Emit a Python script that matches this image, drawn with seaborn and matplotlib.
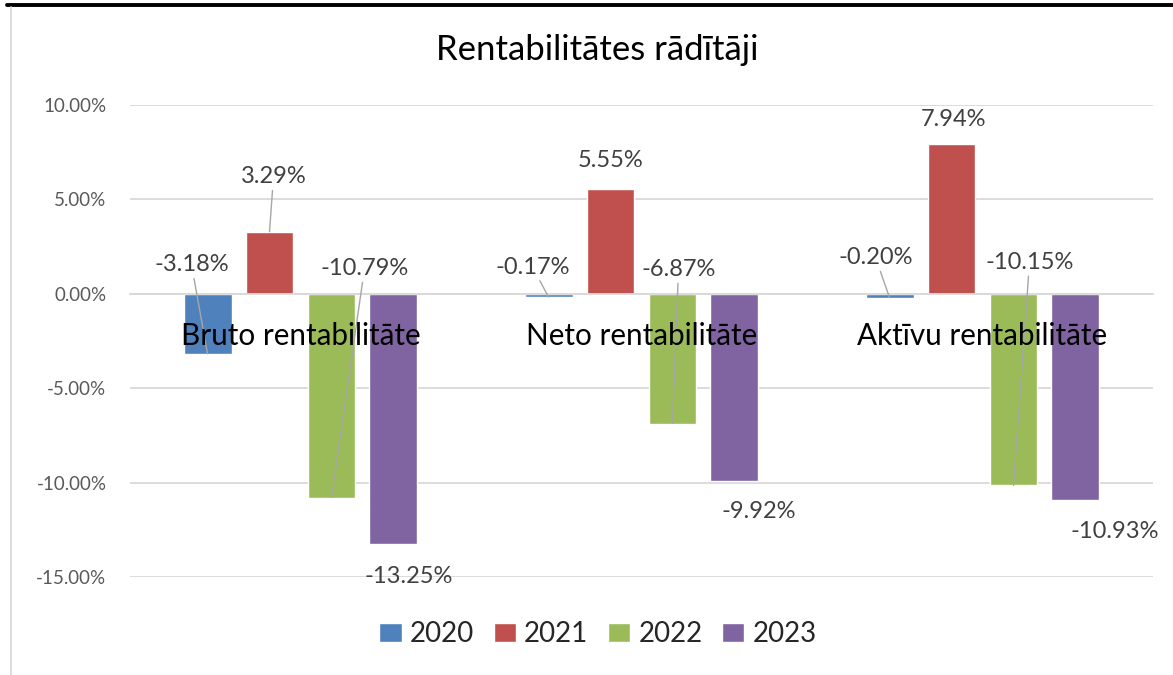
import seaborn as sns
import matplotlib.pyplot as plt
import pandas as pd
from matplotlib.lines import Line2D

categories = ["Bruto rentabilitāte", "Neto rentabilitāte", "Aktīvu rentabilitāte"]
years = ["2020", "2021", "2022", "2023"]
vals_2020 = [-3.18, -0.17, -0.20]
vals_2021 = [3.29, 5.55, 7.94]
vals_2022 = [-10.79, -6.87, -10.15]
vals_2023 = [-13.25, -9.92, -10.93]
colors = ["#4F81BD", "#C0504D", "#9BBB59", "#8064A2"]

# label offsets from the bar end, in pixels; True = draw a leader line
label_pos = {
    "2020": [(-16, 89, True), (-16, 30, True), (-14, 40, True)],
    "2021": [(4, 55, True), (0, 29, False), (2, 24, False)],
    "2022": [(33, 229, True), (6, 154, True), (16, 223, True)],
    "2023": [(15, -33, False), (24, -30, False), (39, -31, False)],
}

series = [vals_2020, vals_2021, vals_2022, vals_2023]
rows = []
for yr, vals in zip(years, series):
    for cat, v in zip(categories, vals):
        rows.append({"category": cat, "year": yr, "value": v})
df = pd.DataFrame(rows)

sns.set_theme(style="white")
plt.rcParams["font.family"] = ["Lato", "DejaVu Sans"]

fig = plt.figure(figsize=(11.73, 6.75), dpi=100)
ax = fig.add_axes([130 / 1173, 1 - 577 / 675, 1023 / 1173, 472 / 675])

sns.barplot(data=df, x="category", y="value", hue="year", order=categories,
            hue_order=years, palette=colors, width=0.727, gap=0.226,
            saturation=1, ax=ax)

ax.set_ylim(-15, 10)
ax.set_yticks([-15, -10, -5, 0, 5, 10])
ax.set_yticklabels([f"{t:.2f}%" for t in ax.get_yticks()])
ax.yaxis.grid(True, color="#D9D9D9", lw=1.3)
ax.set_axisbelow(True)
ax.set_xlabel("")
ax.set_ylabel("")
for s in ["top", "right", "left"]:
    ax.spines[s].set_visible(False)
ax.spines["bottom"].set_position(("data", 0))
ax.spines["bottom"].set_color("#D9D9D9")
ax.spines["bottom"].set_linewidth(1.3)
ax.tick_params(axis="y", length=0, pad=17, labelsize=13.5, labelcolor="#595959")
ax.tick_params(axis="x", length=0, labelbottom=False)

# category names sit over the bars, just under the zero line
for i, cat in enumerate(categories):
    ax.annotate(cat, xy=(i, 0), xytext=(0, -42), textcoords="offset pixels",
                ha="center", va="center", fontsize=21.3, color="#000000", zorder=6)

# data labels
for yr, cont in zip(years, ax.containers):
    for bar, (dx, dy, lead) in zip(cont.patches, label_pos[yr]):
        v = bar.get_height()
        xc = bar.get_x() + bar.get_width() / 2
        props = None
        if lead:
            props = dict(arrowstyle="-", color="#A6A6A6", lw=1, shrinkA=0, shrinkB=0)
        ax.annotate(f"{v:.2f}%", xy=(xc, v), xytext=(dx, dy), textcoords="offset pixels",
                    ha="center", va="center", fontsize=17, color="#404040",
                    arrowprops=props, zorder=5)

handles, labels = ax.get_legend_handles_labels()
ax.legend(handles, labels, loc="center", bbox_to_anchor=(598 / 1173, 1 - 634 / 675),
          bbox_transform=fig.transFigure, ncol=4, frameon=False, fontsize=20,
          handlelength=0.8, handleheight=0.65, handletextpad=0.3, columnspacing=0.7)

fig.text(597 / 1173, 1 - 50 / 675, "Rentabilitātes rādītāji", ha="center", va="center",
         fontsize=25, color="#000000")

# frame pieces of the chart area
fig.add_artist(Line2D([7 / 1173, 1], [1 - 4.5 / 675] * 2, color="black", lw=2.8))
fig.add_artist(Line2D([10.5 / 1173] * 2, [0, 1 - 7 / 675], color="#D9D9D9", lw=1.3))

fig.savefig("out.png", dpi=100, facecolor="white")
plt.close()
